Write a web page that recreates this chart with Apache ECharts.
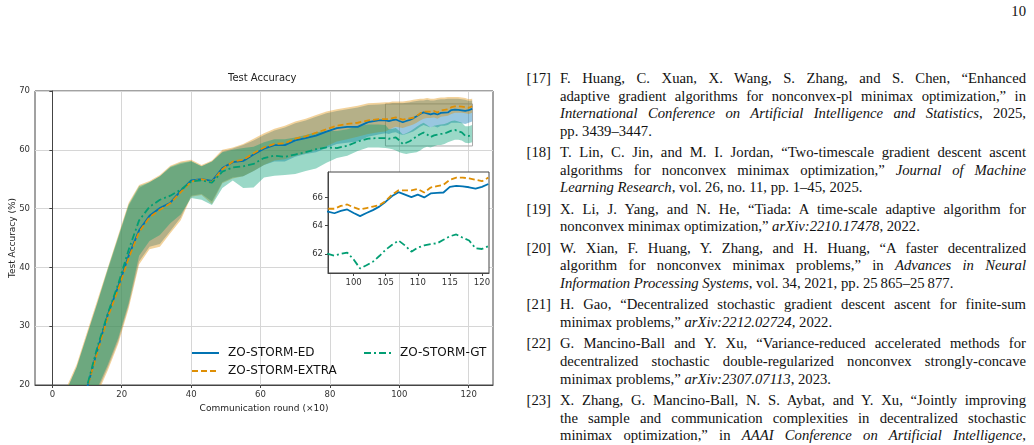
<!DOCTYPE html>
<html>
<head>
<meta charset="utf-8">
<script src="https://cdn.jsdelivr.net/npm/echarts@6/dist/echarts.min.js"></script>
<style>
  html, body { margin: 0; padding: 0; background: #fff; }
  body { width: 1034px; height: 445px; position: relative; overflow: hidden; }
  #chart { position: absolute; left: 0; top: 0; width: 520px; height: 445px; }
  .refs { font-family: "Liberation Serif", "DejaVu Serif", serif; font-size: 14.7px; color: #111; }
  .num { position: absolute; left: 520px; width: 31px; text-align: right; white-space: nowrap; }
  .ln { position: absolute; left: 560px; width: 466px; white-space: nowrap; line-height: 18px; height: 18px; }
  .j { text-align: justify; text-align-last: justify; white-space: normal; }
  .pg { position: absolute; right: 8px; top: 3px; }
</style>
</head>
<body>
<div id="chart"></div>
<div class="refs" id="refs"><div class="pg">10</div></div>
<script>
// communication rounds (x10) at which the curves were read
const rounds = [1, 4, 7, 10, 13, 16, 19, 22, 25, 28, 31, 34, 37, 40, 43, 46, 49, 52, 55, 58, 61, 64, 67, 70, 73, 76, 79, 82, 85, 88, 91, 94, 96,
  97, 98, 99, 100, 101, 102, 103, 104, 105, 106, 107, 108, 109, 110, 111, 112, 113, 114, 115, 116, 117, 118, 119, 120, 121];

// mean test accuracy
const edMean = [6, 10, 14.5, 19.5, 26, 32, 36.8, 42, 46.3, 48.8, 50.1, 51, 53, 54.8, 55, 54.7, 56.9, 57.9, 58.1, 59.2, 60.2, 60.8, 60.8, 61.6, 62.0, 62.4, 63.1, 63.7, 63.9, 63.9, 64.7, 65.0, 65.0,
  64.88, 65.05, 65.15, 64.9, 64.68, 64.9, 65.1, 65.35, 65.7, 66.1, 66.37, 66.2, 66.02, 66.2, 66.0, 66.28, 66.32, 66.35, 66.75, 66.82, 66.78, 66.72, 66.62, 66.75, 66.95];
const extraMean = [6, 10, 14.5, 19.5, 25.6, 31.6, 36.3, 41.6, 46, 48.5, 49.8, 50.9, 52.8, 54.6, 55, 54.5, 56.7, 58.0, 58.3, 59.4, 60.4, 61.0, 61.1, 61.9, 62.3, 62.9, 63.5, 64.1, 64.4, 64.6, 65.0, 65.2, 65.2,
  65.2, 65.4, 65.5, 65.3, 65.15, 65.25, 65.35, 65.45, 65.75, 66.2, 66.5, 66.5, 66.5, 66.6, 66.35, 66.7, 66.8, 66.9, 67.25, 67.4, 67.4, 67.35, 67.25, 67.15, 67.4];
const gtMean = [6, 10, 14.5, 19.8, 26.5, 32.2, 37.2, 43, 48, 50.3, 51.5, 52.2, 53.2, 54.6, 54.8, 54.4, 56.3, 57.0, 57.2, 57.6, 58.6, 59.0, 58.8, 59.2, 59.6, 60.1, 60.4, 60.3, 60.7, 61.4, 61.9, 62.0, 62.0,
  61.88, 62.0, 62.1, 61.6, 60.97, 61.2, 61.45, 61.85, 62.3, 62.65, 62.95, 62.6, 62.16, 62.45, 62.6, 62.7, 62.75, 63.0, 63.25, 63.38, 63.15, 62.95, 62.4, 62.35, 62.55];

// shaded spread (lower / upper)
const edLow = [-1, 3, 7.5, 12.5, 19, 23, 27.5, 33.5, 41, 43.5, 44, 46.2, 48.5, 52.2, 52.5, 51.2, 54.5, 55.3, 55.5, 56.4, 57.4, 58, 58, 58.8, 59.3, 59.6, 60.3, 61, 61.2, 61.4, 62.2, 62.6, 62.8,
  62.7, 62.9, 63.0, 62.7, 62.5, 62.7, 62.9, 63.1, 63.5, 63.9, 64.2, 64.0, 63.8, 64.0, 63.8, 64.1, 64.1, 64.2, 64.6, 64.6, 64.6, 64.5, 64.4, 64.6, 64.8];
const edHigh = [12.5, 19, 23, 28.5, 34, 39.5, 45, 50.5, 53.5, 54.5, 55.5, 57, 57.6, 58, 57.2, 58, 59.7, 60.2, 60.8, 61.6, 62.5, 63.3, 63.8, 64.5, 65, 65.6, 66.2, 66.6, 66.9, 67.2, 67.6, 67.7, 67.8,
  67.8, 67.9, 67.9, 67.9, 67.9, 68.0, 68.1, 68.2, 68.3, 68.4, 68.4, 68.5, 68.4, 68.4, 68.5, 68.6, 68.6, 68.7, 68.7, 68.7, 68.7, 68.6, 68.5, 68.3, 68.4];
const extraLow = [-1, 3, 7, 12, 18.5, 22.5, 27, 33, 40.5, 43.1, 43.5, 45.8, 48, 52, 52.3, 50.8, 54.3, 55.1, 55.5, 56.4, 57.4, 58.2, 58.4, 59.0, 59.4, 60.0, 60.6, 61.4, 61.8, 62.2, 62.7, 63, 63.1,
  63.4, 63.7, 63.9, 63.8, 63.7, 63.9, 64.1, 64.3, 64.6, 65.0, 65.3, 65.4, 65.4, 65.5, 65.3, 65.6, 65.7, 65.8, 66.1, 66.3, 66.3, 66.3, 66.2, 66.1, 66.3];
const extraHigh = [13, 19.5, 23.5, 29, 34.5, 40, 45.5, 51, 54, 54.7, 55.7, 57.3, 58, 58.3, 57.4, 58.2, 60, 60.4, 61, 61.9, 62.8, 63.6, 64.1, 64.8, 65.3, 65.9, 66.5, 66.9, 67.2, 67.5, 67.9, 68, 68.1,
  68.1, 68.2, 68.2, 68.2, 68.2, 68.3, 68.4, 68.5, 68.6, 68.7, 68.7, 68.8, 68.7, 68.7, 68.8, 68.9, 68.9, 69, 69, 69, 69, 68.9, 68.8, 68.6, 68.7];
const gtLow = [-0.5, 3.5, 7.5, 12.5, 19.5, 23.5, 28, 34, 42, 44.5, 45.5, 47.5, 49, 51.8, 51.5, 50.6, 53.5, 54.8, 53.5, 53.6, 55.3, 55.6, 55.7, 55.9, 56.4, 56.8, 57.8, 58.6, 59.0, 59.8, 60.4, 60.4, 60.3,
  60.2, 60.1, 59.9, 59.6, 59.4, 59.3, 59.4, 59.5, 59.6, 59.9, 60.3, 60.5, 60.4, 60.6, 60.8, 60.8, 61.0, 61.3, 61.5, 61.7, 61.7, 61.6, 61.2, 61.1, 61.3];
const gtHigh = [12.5, 19, 23, 28.5, 34, 39.8, 45.2, 50.7, 53.8, 54.5, 55.5, 57.1, 57.8, 58.1, 57.2, 58, 59.6, 60, 60.3, 60.5, 61.3, 61.8, 61.8, 62.1, 62.5, 63, 63.2, 63.2, 63.5, 64, 64.3, 64.3, 64.2,
  63.5, 63.6, 63.7, 63.2, 62.6, 62.8, 63.1, 63.5, 63.9, 64.3, 64.6, 64.2, 63.8, 64.1, 64.2, 64.3, 64.4, 64.6, 64.9, 65.0, 64.8, 64.6, 64.0, 64.0, 64.2];

const mainTicksX = [0, 20, 40, 60, 80, 100, 120];
const insetTicksX = [100, 105, 110, 115, 120];
const insetTicksY = [62, 64, 66];
// zoomed window shown in the inset
const zoomBox = { x0: 96, x1: 121.1, y0: 60.65, y1: 67.8 };

const names = ['ZO-STORM-ED', 'ZO-STORM-EXTRA', 'ZO-STORM-GT'];
const colors = ['#0173b2', '#de8f05', '#029e73'];
const fills = ['rgba(1,115,178,0.4)', 'rgba(222,143,5,0.4)', 'rgba(2,158,115,0.4)'];
const dashes = ['solid', [6, 3], [7, 3, 2, 3]];

const font = 'DejaVu Sans';
const chart = echarts.init(document.getElementById('chart'), null, { renderer: 'canvas' });

function pts(vals) {
  return rounds.map((x, i) => [x, vals[i]]);
}

function band(name, low, high, fill) {
  return {
    type: 'custom',
    name: name,
    xAxisIndex: 0,
    yAxisIndex: 0,
    clip: true,
    silent: true,
    z: 1,
    data: rounds.map((x, i) => [x, low[i], high[i]]),
    renderItem: function (params, api) {
      if (params.dataIndex !== 0) return null;
      const poly = [];
      for (let i = 0; i < rounds.length; i++) poly.push(api.coord([rounds[i], high[i]]));
      for (let i = rounds.length - 1; i >= 0; i--) poly.push(api.coord([rounds[i], low[i]]));
      return { type: 'polygon', shape: { points: poly }, style: { fill: fill } };
    }
  };
}

function line(k, vals, inset) {
  return {
    type: 'line',
    name: names[k],
    xAxisIndex: inset ? 1 : 0,
    yAxisIndex: inset ? 1 : 0,
    zlevel: inset ? 1 : 0,
    z: 3,
    data: pts(vals),
    symbol: 'none',
    silent: true,
    clip: true,
    lineStyle: { color: colors[k], width: 1.8, type: dashes[k] },
    itemStyle: { color: colors[k] }
  };
}

const tickLabel = { fontSize: 8.5, color: '#333', fontFamily: font };
const axisLine = { show: true, lineStyle: { color: '#444', width: 1 } };
const axisTick = { show: true, length: 3, lineStyle: { color: '#444' } };

const mainLines = [line(0, edMean), line(1, extraMean), line(2, gtMean)];
mainLines[0].markArea = {
  silent: true,
  label: { show: false },
  itemStyle: { color: 'rgba(0,0,0,0)', borderColor: '#aaa', borderWidth: 1 },
  data: [[{ coord: [zoomBox.x0, zoomBox.y1] }, { coord: [zoomBox.x1, zoomBox.y0] }]]
};

const legendBase = {
  orient: 'vertical',
  top: 342,
  itemWidth: 27, itemHeight: 12, itemGap: 6,
  selectedMode: false,
  itemStyle: { opacity: 0 },
  textStyle: { fontSize: 12, color: '#111', fontFamily: font, padding: [0, 0, 0, 4] }
};

const option = {
  animation: false,
  title: {
    text: 'Test Accuracy',
    left: 228,
    top: 73,
    padding: 0,
    textStyle: { fontSize: 10, fontWeight: 'normal', color: '#222', fontFamily: font }
  },
  legend: [
    Object.assign({ data: names.slice(0, 2), left: 186 }, legendBase),
    Object.assign({ data: names.slice(2), left: 358 }, legendBase)
  ],
  grid: [
    { left: 35, top: 91, width: 458, height: 294, outerBoundsMode: 'none', containLabel: false,
      show: true, borderColor: '#444', borderWidth: 1, backgroundColor: 'transparent' },
    { left: 328, top: 172, width: 161, height: 101, outerBoundsMode: 'none', containLabel: false,
      show: true, borderColor: '#444', borderWidth: 1, backgroundColor: '#fff', zlevel: 1 }
  ],
  xAxis: [
    {
      type: 'value', gridIndex: 0, min: -5, max: 127,
      name: 'Communication round (\u00d710)', nameLocation: 'middle', nameGap: 18,
      nameTextStyle: { fontSize: 9, color: '#222', fontFamily: font },
      axisLine: axisLine,
      axisTick: Object.assign({ customValues: mainTicksX }, axisTick),
      axisLabel: Object.assign({ customValues: mainTicksX, margin: 5 }, tickLabel),
      splitLine: { show: true, lineStyle: { color: '#d6d6d6', width: 1 } }
    },
    {
      type: 'value', gridIndex: 1, min: zoomBox.x0, max: zoomBox.x1, zlevel: 1,
      axisLine: axisLine,
      axisTick: Object.assign({ customValues: insetTicksX }, axisTick),
      axisLabel: Object.assign({ customValues: insetTicksX, margin: 5 }, tickLabel),
      splitLine: { show: false }
    }
  ],
  yAxis: [
    {
      type: 'value', gridIndex: 0, min: 20, max: 70, interval: 10,
      name: 'Test Accuracy (%)', nameLocation: 'middle', nameGap: 18, nameRotate: 90,
      nameMoveOverlap: false,
      nameTextStyle: { fontSize: 9, color: '#222', fontFamily: font },
      axisLine: axisLine,
      axisTick: axisTick,
      axisLabel: Object.assign({ margin: 5 }, tickLabel),
      splitLine: { show: true, lineStyle: { color: '#d6d6d6', width: 1 } }
    },
    {
      type: 'value', gridIndex: 1, min: zoomBox.y0, max: zoomBox.y1, zlevel: 1,
      axisLine: axisLine,
      axisTick: Object.assign({ customValues: insetTicksY }, axisTick),
      axisLabel: Object.assign({ customValues: insetTicksY, margin: 5 }, tickLabel),
      splitLine: { show: false }
    }
  ],
  series: [
    band('ED spread', edLow, edHigh, fills[0]),
    band('EXTRA spread', extraLow, extraHigh, fills[1]),
    band('GT spread', gtLow, gtHigh, fills[2])
  ].concat(mainLines, [line(0, edMean, true), line(1, extraMean, true), line(2, gtMean, true)])
};
chart.setOption(option);

// reference list on the right
const refs = [
  ['[17]', [
    ['j', 'F. Huang, C. Xuan, X. Wang, S. Zhang, and S. Chen, \u201cEnhanced'],
    ['j', 'adaptive gradient algorithms for nonconvex-pl minimax optimization,\u201d in'],
    ['j', '<i>International Conference on Artificial Intelligence and Statistics</i>, 2025,'],
    ['l', 'pp. 3439\u20133447.']
  ]],
  ['[18]', [
    ['j', 'T. Lin, C. Jin, and M. I. Jordan, \u201cTwo-timescale gradient descent ascent'],
    ['j', 'algorithms for nonconvex minimax optimization,\u201d <i>Journal of Machine</i>'],
    ['l', '<i>Learning Research</i>, vol. 26, no. 11, pp. 1\u201345, 2025.']
  ]],
  ['[19]', [
    ['j', 'X. Li, J. Yang, and N. He, \u201cTiada: A time-scale adaptive algorithm for'],
    ['l', 'nonconvex minimax optimization,\u201d <i>arXiv:2210.17478</i>, 2022.']
  ]],
  ['[20]', [
    ['j', 'W. Xian, F. Huang, Y. Zhang, and H. Huang, \u201cA faster decentralized'],
    ['j', 'algorithm for nonconvex minimax problems,\u201d in <i>Advances in Neural</i>'],
    ['l', '<i>Information Processing Systems</i>, vol. 34, 2021, pp. 25\u2009865\u201325\u2009877.']
  ]],
  ['[21]', [
    ['j', 'H. Gao, \u201cDecentralized stochastic gradient descent ascent for finite-sum'],
    ['l', 'minimax problems,\u201d <i>arXiv:2212.02724</i>, 2022.']
  ]],
  ['[22]', [
    ['j', 'G. Mancino-Ball and Y. Xu, \u201cVariance-reduced accelerated methods for'],
    ['j', 'decentralized stochastic double-regularized nonconvex strongly-concave'],
    ['l', 'minimax problems,\u201d <i>arXiv:2307.07113</i>, 2023.']
  ]],
  ['[23]', [
    ['j', 'X. Zhang, G. Mancino-Ball, N. S. Aybat, and Y. Xu, \u201cJointly improving'],
    ['j', 'the sample and communication complexities in decentralized stochastic'],
    ['j', 'minimax optimization,\u201d in <i>AAAI Conference on Artificial Intelligence</i>,'],
    ['l', 'vol. 38, no. 18, 2024, pp. 20\u2009865\u201320\u2009873.']
  ]]
];
const box = document.getElementById('refs');
let y = 69;          // top of first line box
const step = 17.6;   // line pitch
const gap = 3.8;     // extra space between entries
refs.forEach(function (r) {
  const n = document.createElement('div');
  n.className = 'num';
  n.style.top = y + 'px';
  n.style.lineHeight = '18px';
  n.textContent = r[0];
  box.appendChild(n);
  r[1].forEach(function (l) {
    const d = document.createElement('div');
    d.className = 'ln' + (l[0] === 'j' ? ' j' : '');
    d.style.top = y + 'px';
    d.innerHTML = l[1];
    box.appendChild(d);
    y += step;
  });
  y += gap;
});
</script>
</body>
</html>
